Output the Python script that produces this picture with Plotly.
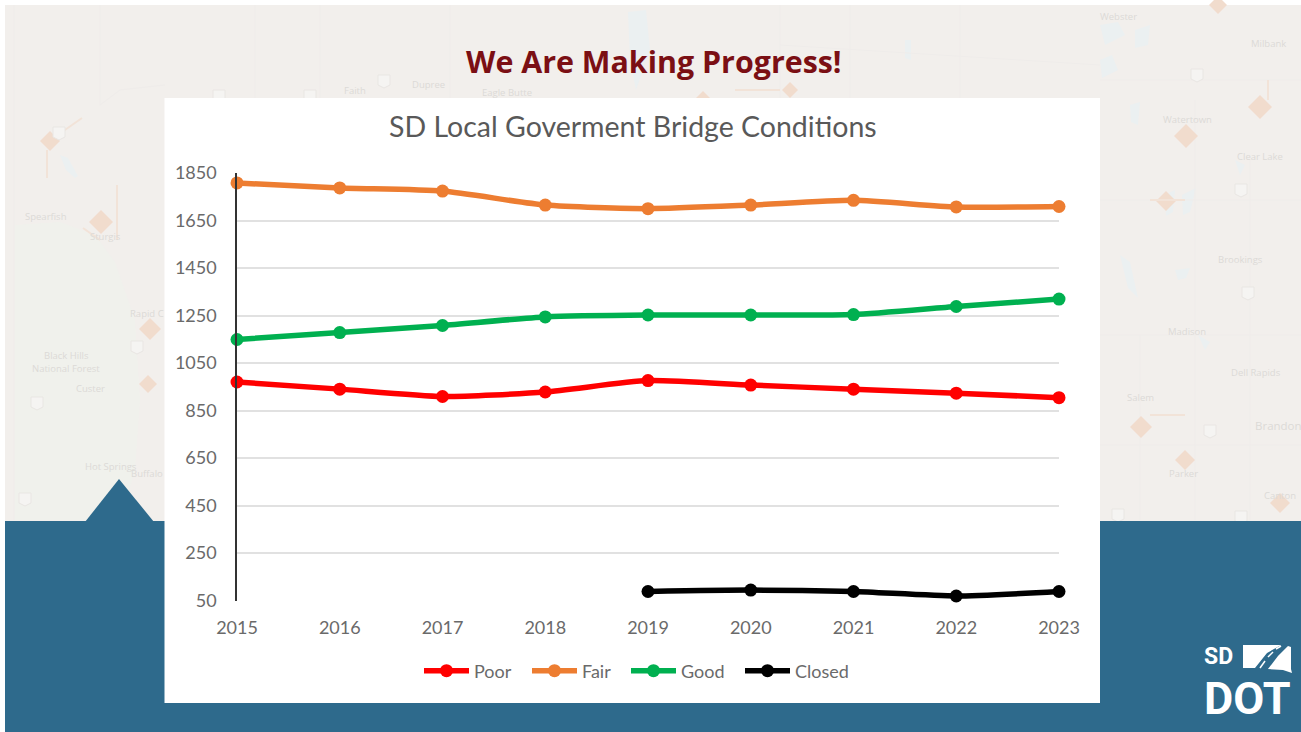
import plotly.graph_objects as go

# ---------- data ----------
years = [2015, 2016, 2017, 2018, 2019, 2020, 2021, 2022, 2023]
poor = [970, 940, 909, 928, 976, 957, 940, 923, 904]
fair = [1808, 1787, 1774, 1715, 1700, 1715, 1735, 1707, 1709]
good = [1149, 1178, 1208, 1244, 1252, 1252, 1254, 1288, 1319]
closed = [None, None, None, None, 88, 94, 88, 69, 88]
y_ticks = [50, 250, 450, 650, 850, 1050, 1250, 1450, 1650, 1850]

W, H = 1301, 732
PAPER = "#f2efec"
BLUE = "#2e6a8c"
GRID = "#e1e1e1"
TXT = "#6a6a6a"
FONT = "Lato, 'Open Sans', sans-serif"


def X(px):
    return px / W


def Y(px):
    return 1 - px / H


def poly(points, fill, line=None, width=0, opacity=1.0):
    d = "M" + " L".join(f"{X(a):.5f},{Y(b):.5f}" for a, b in points) + " Z"
    return dict(type="path", xref="paper", yref="paper", path=d, fillcolor=fill,
                line=dict(color=line or fill, width=width), layer="below", opacity=opacity)


def path(points, color, width=1, opacity=1.0):
    d = "M" + " L".join(f"{X(a):.5f},{Y(b):.5f}" for a, b in points)
    return dict(type="path", xref="paper", yref="paper", path=d,
                line=dict(color=color, width=width), layer="below", opacity=opacity)


def rect(x0, y0, x1, y1, fill):
    return dict(type="rect", xref="paper", yref="paper", x0=X(x0), x1=X(x1),
                y0=Y(y1), y1=Y(y0), fillcolor=fill, line=dict(width=0), layer="below")


shapes = [rect(5, 5, W, H, PAPER)]

# Black Hills forest tint
shapes.append(poly([(15, 225), (60, 222), (95, 235), (115, 262), (135, 320), (140, 400),
                    (135, 470), (120, 520), (15, 520)], "#f0f1ec"))

# lakes / water, very faint
WATER = "#ebf0f1"
lakes = [
    [(60, 155), (68, 158), (78, 176), (75, 178), (66, 170)],
    [(1100, 25), (1118, 22), (1125, 35), (1105, 45)],
    [(1135, 30), (1150, 25), (1148, 45), (1135, 48)],
    [(1100, 60), (1112, 55), (1118, 70), (1102, 78)],
    [(1130, 105), (1140, 102), (1138, 125), (1131, 122)],
    [(1165, 195), (1175, 190), (1173, 212), (1166, 216)],
    [(1182, 195), (1196, 188), (1190, 212), (1183, 215)],
    [(1120, 255), (1130, 262), (1138, 298), (1128, 288)],
    [(1175, 270), (1190, 268), (1186, 278), (1178, 280)],
    [(905, 40), (911, 40), (911, 60), (905, 58)],
    [(628, 12), (646, 10), (650, 50), (636, 90), (630, 60)],
    [(1198, 335), (1210, 342), (1205, 350)],
    [(1235, 160), (1245, 165), (1240, 175)],
]
shapes += [poly(p, WATER) for p in lakes]

# county / road lines, very faint
ROAD = "#efecea"
roads = [
    [(14, 5), (14, 520)], [(100, 5), (100, 105)], [(100, 105), (120, 90), (165, 85)],
    [(255, 5), (255, 98)], [(320, 5), (320, 98)], [(450, 5), (450, 98)],
    [(780, 5), (780, 98)], [(850, 5), (850, 98)], [(960, 5), (960, 98)],
    [(1100, 80), (1301, 80)], [(1100, 200), (1301, 200)], [(1100, 335), (1301, 335)],
    [(1100, 445), (1301, 445)], [(1195, 100), (1195, 520)], [(1250, 160), (1250, 520)],
    [(1140, 335), (1140, 520)], [(780, 45), (1100, 65)],
]
shapes += [path(p, ROAD, 1) for p in roads]

# orange construction diamonds
DIA = "#f1dccd"
diamonds = [(50, 141, 10), (101, 222, 12), (150, 329, 11), (148, 384, 9), (703, 100, 9),
            (790, 90, 8), (1186, 136, 12), (1166, 201, 10), (1260, 107, 12),
            (1141, 427, 11), (1185, 460, 10), (1280, 503, 10), (1218, 5, 9)]
for cx, cy, r in diamonds:
    shapes.append(poly([(cx - r, cy), (cx, cy - r), (cx + r, cy), (cx, cy + r)], DIA))
shapes += [path(p, "#f2e3d8", 2) for p in [
    [(47, 150), (47, 178)], [(62, 132), (82, 118)], [(117, 185), (117, 240)],
    [(83, 228), (100, 240)], [(1150, 415), (1185, 415)], [(1150, 200), (1185, 200)],
    [(1268, 80), (1268, 100)], [(735, 90), (780, 90)],
]]

# highway shields
SHIELD = "#f5f4f2"
shields = [(59, 133), (137, 347), (37, 403), (25, 499), (310, 96), (219, 96), (384, 81),
           (1197, 75), (1241, 190), (1248, 293), (1210, 431), (1241, 517), (1118, 515)]
for cx, cy in shields:
    shapes.append(poly([(cx - 6, cy - 6), (cx + 6, cy - 6), (cx + 6, cy + 4), (cx, cy + 7), (cx - 6, cy + 4)],
                       SHIELD, "#e9e6e3", 1))

# footer band, pointer, white chart card
shapes += [
    rect(5, 521, W, H, BLUE),
    poly([(85, 522), (119, 479), (154, 522)], BLUE),
    rect(164.5, 98, 1100, 703, "#ffffff"),
    # logo: state outline split by the road
    poly([(1243, 645), (1281, 645), (1267, 653), (1255, 668), (1243, 668)], "#ffffff"),
    poly([(1268, 669), (1278, 656), (1288, 646), (1291, 647), (1291, 669), (1292, 673), (1283, 670)], "#ffffff"),
    path([(1260, 668), (1265, 661)], "#ffffff", 1.5),
    path([(1268, 657), (1273, 652)], "#ffffff", 1.5),
    path([(1276, 649), (1281, 646)], "#ffffff", 1.5),
]


def label(text, x, y, size=9.5, color="#dcdad7"):
    return dict(text=text, xref="paper", yref="paper", x=X(x), y=Y(y), showarrow=False,
                xanchor="center", yanchor="middle",
                font=dict(family="'Open Sans', sans-serif", size=size, color=color))


annotations = [label(t, x, y) for t, x, y in [
    ("Spearfish", 46, 217), ("Sturgis", 105, 236), ("Rapid C", 147, 313),
    ("Black Hills", 66, 355), ("National Forest", 66, 368), ("Custer", 90, 388),
    ("Hot Springs", 111, 466), ("Buffalo", 147, 473), ("Faith", 355, 91), ("Dupree", 428, 85),
    ("Eagle Butte", 507, 93), ("Webster", 1118, 17), ("Milbank", 1268, 43),
    ("Watertown", 1187, 120), ("Clear Lake", 1260, 157), ("Brookings", 1240, 260),
    ("Madison", 1187, 331), ("Dell Rapids", 1256, 373), ("Salem", 1140, 397),
    ("Parker", 1183, 473), ("Canton", 1280, 495),
]]
annotations.append(label("Brandon", 1278, 425, size=11.5))
annotations += [
    dict(text="<b>We Are Making Progress!</b>", xref="paper", yref="paper", x=X(653.5), y=Y(61),
         showarrow=False, xanchor="center", yanchor="middle",
         font=dict(family="'Open Sans', sans-serif", size=30.4, color="#7b0f14")),
    dict(text="SD Local Goverment Bridge Conditions", xref="paper", yref="paper", x=X(632.5), y=Y(126),
         showarrow=False, xanchor="center", yanchor="middle",
         font=dict(family=FONT, size=28.5, color="#595959")),
    dict(text="<b>SD</b>", xref="paper", yref="paper", x=X(1218), y=Y(656), showarrow=False,
         xanchor="center", yanchor="middle",
         font=dict(family="Roboto, sans-serif", size=23, color="#ffffff")),
    dict(text="<b>DOT</b>", xref="paper", yref="paper", x=X(1247.5), y=Y(698), showarrow=False,
         xanchor="center", yanchor="middle",
         font=dict(family="Roboto, sans-serif", size=45, color="#ffffff")),
]

fig = go.Figure()
series = [("Poor", poor, "#ff0000", "legend"), ("Fair", fair, "#ed7d31", "legend2"),
          ("Good", good, "#00b050", "legend3"), ("Closed", closed, "#000000", "legend4")]
for name, vals, color, leg in series:
    fig.add_trace(go.Scatter(
        x=years, y=vals, name=name, legend=leg, showlegend=True, mode="lines+markers",
        connectgaps=False, cliponaxis=False,
        line=dict(color=color, width=5.5, shape="spline", smoothing=0.6),
        marker=dict(color=color, size=13),
    ))


def legend_at(px):
    return dict(orientation="h", x=X(px), y=Y(671), xanchor="left", yanchor="middle",
                itemwidth=45, bgcolor="rgba(0,0,0,0)", font=dict(family=FONT, size=18, color=TXT))


fig.update_layout(
    width=W, height=H, autosize=False, showlegend=True,
    margin=dict(l=0, r=0, t=0, b=0, autoexpand=False),
    paper_bgcolor="#ffffff", plot_bgcolor="rgba(0,0,0,0)",
    shapes=shapes, annotations=annotations,
    font=dict(family=FONT, size=17, color=TXT),
    hovermode=False,
    legend=legend_at(419), legend2=legend_at(527), legend3=legend_at(626), legend4=legend_at(740),
    xaxis=dict(domain=[X(237), X(1059)], range=[2015, 2023], tickvals=years,
               ticktext=[str(v) for v in years], showgrid=False, zeroline=False, showline=False,
               ticklabelstandoff=14, tickfont=dict(size=18, color=TXT)),
    yaxis=dict(domain=[Y(600.5), Y(173)], range=[50, 1850], tickvals=y_ticks,
               showgrid=True, gridcolor=GRID, gridwidth=2, zeroline=False,
               showline=True, linecolor="#333333", linewidth=1.5,
               ticklabelstandoff=15, tickfont=dict(size=18, color=TXT)),
)

fig.write_html("out.html", config=dict(displayModeBar=False),
               post_script="document.body.style.margin='0';document.documentElement.style.overflow='hidden';")
